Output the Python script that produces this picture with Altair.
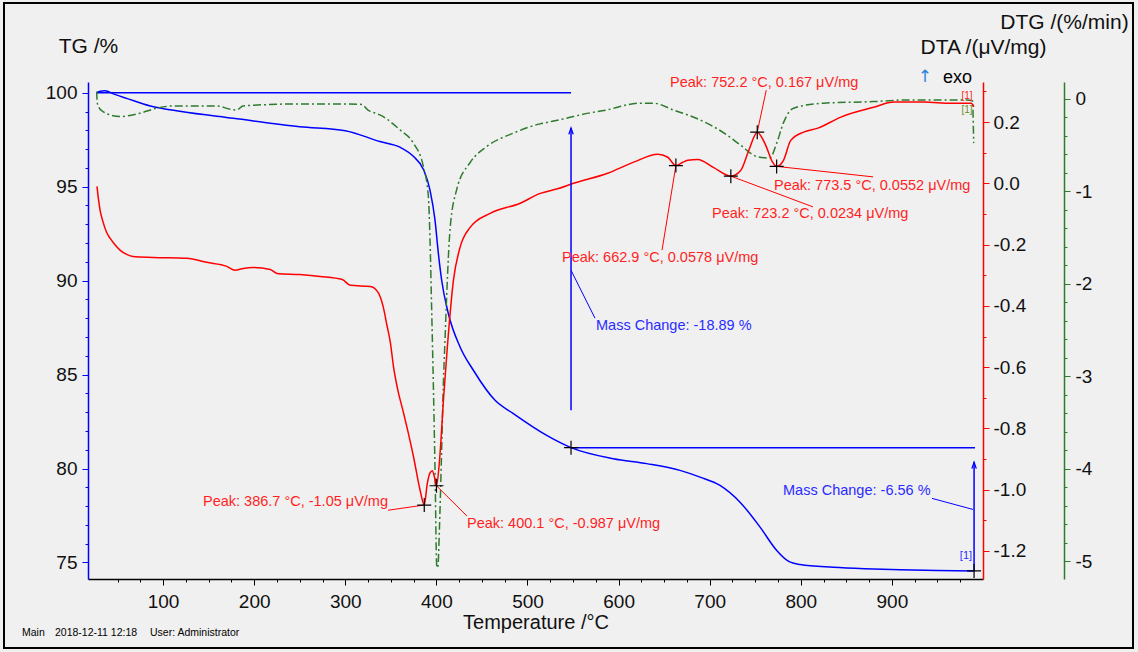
import altair as alt
import pandas as pd

FONT = "Liberation Sans"
BLUE = "#0000ff"
RED = "#ff0000"
GREEN = "#2e7b2e"
TXT_RED = "#ff1f1f"
TXT_BLUE = "#2b2bff"
ANN_SIZE = 14.5

# ---------------- axis ranges and ticks ----------------
T_DOMAIN = [17.6, 1000]
TG_DOMAIN = [74.12, 100.57]
DTA_DOMAIN = [-1.2914, 0.3306]
DTG_DOMAIN = [-5.191, 0.183]
X_MAJOR = list(range(100, 1000, 100))
X_MINOR = list(range(50, 1000, 25))
TG_MAJOR = list(range(75, 101, 5))
TG_MINOR = list(range(75, 101))
DTA_MAJOR = [round(-1.2 + 0.2 * i, 1) for i in range(8)]
DTA_MINOR = [round(-1.2 + 0.1 * i, 1) for i in range(16)]
DTG_MAJOR = [-5, -4, -3, -2, -1, 0]
DTG_MINOR = [round(-5 + 0.2 * i, 1) for i in range(26)]

# ---------------- TG curve (%) ----------------
tg_t = [27.1, 31, 36, 47, 60, 86, 120, 177, 250, 300, 338, 360, 375, 386, 393,
        398.5, 402.2, 405.8, 413.1, 426, 440.6, 464.4, 484.5, 521.1, 547.8,
        594.2, 630.9, 667.4, 689.4, 711.3, 733.3, 755.3, 773.6, 786.3, 799.2,
        835.7, 870, 909.2, 950, 990.2]
tg_v = [100.0, 100.08, 100.1, 99.91, 99.7, 99.29, 99.0, 98.64, 98.19, 97.98, 97.4,
        97.1, 96.6, 95.9, 94.82, 93.22, 91.44, 90.02, 88.25, 86.47, 85.23, 83.63,
        82.92, 81.76, 81.11, 80.52, 80.26, 79.9, 79.54, 79.1, 78.21, 76.88, 75.64,
        75.07, 74.89, 74.75, 74.67, 74.61, 74.57, 74.55]

# ---------------- DTA curve (µV/mg) ----------------
dta_t = [27.5, 29, 31, 34, 38, 42, 47, 53, 60, 67, 89, 126, 148, 170, 179, 188,
         199, 217.6, 225, 250, 272.5, 296.7, 305.5, 327.5, 336, 341.8, 345.5,
         349.5, 353, 357, 364, 368, 375, 382, 386.7, 390, 393, 395.5, 398, 400.1,
         403, 405, 407.7, 412, 418.7, 426, 437, 459, 492, 514, 533, 550.5, 588,
         616.5, 643, 654, 662.9, 670, 676, 687, 704, 723.2, 734, 743, 752.2,
         761.5, 769, 773.5, 781, 789, 803, 818.7, 844, 880, 902, 935, 965, 987, 990]
dta_v = [-0.01, -0.05, -0.09, -0.125, -0.16, -0.18, -0.2, -0.219, -0.232, -0.239,
         -0.242, -0.245, -0.258, -0.271, -0.284, -0.278, -0.275, -0.281, -0.294,
         -0.298, -0.304, -0.314, -0.333, -0.337, -0.356, -0.405, -0.46, -0.52,
         -0.6, -0.665, -0.75, -0.8, -0.894, -1.0, -1.05, -0.98, -0.945, -0.938,
         -0.96, -0.987, -0.92, -0.84, -0.709, -0.536, -0.317, -0.209, -0.144,
         -0.098, -0.065, -0.033, -0.018, 0.0, 0.033, 0.069, 0.095, 0.085, 0.0578,
         0.068, 0.075, 0.078, 0.052, 0.0234, 0.042, 0.108, 0.167, 0.124, 0.069,
         0.0552, 0.075, 0.14, 0.167, 0.18, 0.216, 0.248, 0.265, 0.265, 0.261,
         0.261, 0.25]

# ---------------- DTG curve (%/min) ----------------
dtg_t = [27.1, 27.8, 30, 34.1, 41.8, 52.7, 74.7, 93, 111.2, 158.9, 173.5, 180.8,
         187.8, 250.3, 300, 318, 325, 332, 338, 360, 374.7, 385.7, 391.2, 393,
         394.9, 396.7, 398.5, 400.4, 401.5, 403.5, 405.5, 407.6, 409.5, 411.3,
         415, 422.3, 436.9, 455.3, 484.5, 513.8, 521, 550.5, 557.7, 587, 623.5,
         638.1, 660, 689.4, 718.7, 733.3, 751.6, 765.9, 773.6, 780.8, 792,
         824.7, 879.6, 916.2, 982.1, 988.5, 989.4, 989.8]
dtg_v = [0.079, -0.046, -0.1, -0.137, -0.173, -0.191, -0.154, -0.1, -0.076,
         -0.076, -0.111, -0.119, -0.076, -0.054, -0.054, -0.06, -0.12, -0.15,
         -0.173, -0.334, -0.478, -0.73, -1.054, -1.52, -2.31, -3.1, -4.0, -5.05,
         -5.07, -4.6, -3.9, -3.1, -2.6, -2.13, -1.41, -0.98, -0.69, -0.515, -0.37,
         -0.27, -0.255, -0.191, -0.173, -0.119, -0.046, -0.046, -0.119, -0.227,
         -0.388, -0.496, -0.622, -0.64, -0.478, -0.262, -0.1, -0.046, -0.029,
         -0.011, -0.011, -0.02, -0.3, -0.478]

# ---------------- DTA peak annotations ----------------
peak_t = [386.7, 400.1, 662.9, 723.2, 752.2, 773.5]
peak_v = [-1.05, -0.987, 0.0578, 0.0234, 0.167, 0.0552]
peak_text = ["Peak: 386.7 °C, -1.05 μV/mg", "Peak: 400.1 °C, -0.987 μV/mg",
             "Peak: 662.9 °C, 0.0578 μV/mg", "Peak: 723.2 °C, 0.0234 μV/mg",
             "Peak: 752.2 °C, 0.167 μV/mg", "Peak: 773.5 °C, 0.0552 μV/mg"]
peak_label_t = [346.9, 433.6, 537.9, 702.6, 656.5, 770.6]
peak_label_v = [-1.040, -1.112, -0.244, -0.100, 0.327, -0.009]
peak_label_align = ["right", "left", "left", "left", "left", "left"]
peak_link_t = [346.9, 433.6, 647.7, 813.4, 762.1, 879.3]
peak_link_v = [-1.067, -1.086, -0.218, -0.077, 0.304, 0.021]

# ---------------- TG mass change annotations ----------------
mc_text = ["Mass Change: -18.89 %", "Mass Change: -6.56 %"]
mc_label_t = [575.2, 780.5]
mc_label_v = [87.57, 78.78]
mc_link_t1 = [547.8, 944.1]
mc_link_v1 = [90.55, 78.41]
mc_link_t2 = [574.1, 989.1]
mc_link_v2 = [88.0, 77.82]
mc_hline_t1 = [27.5, 547.8]
mc_hline_t2 = [547.8, 991.2]
mc_hline_v = [100.0, 81.11]
mc_arrow_t = [547.8, 990.2]
mc_arrow_from = [83.10, 74.52]
mc_arrow_to = [98.12, 80.33]
mc_mark_t = [547.8, 990.2]
mc_mark_v = [81.11, 74.55]

# ---------------- scales ----------------
xs = alt.Scale(domain=T_DOMAIN, nice=False, zero=False)
tgs = alt.Scale(domain=TG_DOMAIN, nice=False, zero=False)
dtas = alt.Scale(domain=DTA_DOMAIN, nice=False, zero=False)
dtgs = alt.Scale(domain=DTG_DOMAIN, nice=False, zero=False)

CROSS = "M-1,0L1,0M0,-1L0,1"
CHEVRON = "M-0.7,2L0,0L0.7,2"
FIX_MINUS = "replace(datum.label, '\u2212', '-')"


def minor_axis(values, orient, color, offset=0):
    return alt.Axis(values=values, orient=orient, offset=offset, labels=False, domain=False,
                    tickSize=3, tickColor=color, title=None, grid=False)


x_axis = alt.Axis(
    values=X_MAJOR, title="Temperature /°C", tickSize=6,
    domainColor="black", tickColor="black", labelPadding=7, labelFlush=False,
    labelOverlap=False, titleY=43, titleBaseline="middle", titleFontSize=20)
x_minor = minor_axis(X_MINOR, "bottom", "black")

tg_axis = alt.Axis(
    values=TG_MAJOR, orient="left", title="TG /%", tickSize=6,
    domainColor=BLUE, tickColor=BLUE, labelPadding=5, labelOverlap=False,
    titleAngle=0, titleX=0, titleY=-36, titleAlign="center", titleBaseline="middle")
tg_minor = minor_axis(TG_MINOR, "left", BLUE)

dta_axis = alt.Axis(
    values=DTA_MAJOR, orient="right", title="DTA /(μV/mg)", format=".1f", tickSize=6,
    labelExpr=FIX_MINUS,
    domainColor=RED, tickColor=RED, labelPadding=4, labelOverlap=False,
    titleAngle=0, titleX=0, titleY=-35, titleAlign="center", titleBaseline="middle")
dta_minor = minor_axis(DTA_MINOR, "right", RED)

dtg_axis = alt.Axis(
    values=DTG_MAJOR, orient="right", offset=81, title="DTG /(%/min)", format=".0f",
    tickSize=6, labelExpr=FIX_MINUS,
    domainColor=GREEN, tickColor=GREEN, labelPadding=5, labelOverlap=False,
    titleAngle=0, titleX=0, titleY=-60, titleAlign="center", titleBaseline="middle")
dtg_minor = minor_axis(DTG_MINOR, "right", GREEN, offset=81)

one = pd.DataFrame({"a": [0]})


def X(field, axis=None):
    return alt.X(f"{field}:Q", scale=xs, axis=axis)


# ---------------- frame and footer ----------------
frame = alt.Chart(one).mark_rect(filled=False, stroke="black", strokeWidth=2).encode(
    x=alt.value(-84), x2=alt.value(1045), y=alt.value(-79), y2=alt.value(566))


def footer(text, px):
    return alt.Chart(one).mark_text(
        text=text, align="left", baseline="middle", font=FONT, fontSize=10.5, color="black"
    ).encode(x=alt.value(px), y=alt.value(551))


footers = [footer("Main", -66), footer("2018-12-11 12:18", -33), footer("User: Administrator", 62)]

# ---------------- TG layers ----------------
tg_df = pd.DataFrame({"T": tg_t, "v": tg_v})
tg_line = alt.Chart(tg_df).mark_line(color=BLUE, strokeWidth=1.5, interpolate="monotone").encode(
    x=X("T", x_axis), y=alt.Y("v:Q", scale=tgs, axis=tg_axis))

hl_df = pd.DataFrame({"t1": mc_hline_t1, "t2": mc_hline_t2, "v": mc_hline_v})
tg_hlines = alt.Chart(hl_df).mark_rule(color=BLUE, strokeWidth=1.5).encode(
    x=X("t1", x_minor), x2="t2:Q", y=alt.Y("v:Q", scale=tgs, axis=tg_minor))

ar_df = pd.DataFrame({"t": mc_arrow_t, "v1": mc_arrow_from, "v2": mc_arrow_to})
tg_arrows = alt.Chart(ar_df).mark_rule(color=BLUE, strokeWidth=1.5).encode(
    x=X("t"), y=alt.Y("v1:Q", scale=tgs, axis=None), y2="v2:Q")
tg_heads = alt.Chart(ar_df).mark_point(shape=CHEVRON, filled=False, color=BLUE, size=40,
                                        strokeWidth=1.3, opacity=1).encode(
    x=X("t"), y=alt.Y("v2:Q", scale=tgs, axis=None))

ln_df = pd.DataFrame({"t1": mc_link_t1, "v1": mc_link_v1, "t2": mc_link_t2, "v2": mc_link_v2})
tg_links = alt.Chart(ln_df).mark_rule(color=BLUE, strokeWidth=1).encode(
    x=X("t1"), x2="t2:Q", y=alt.Y("v1:Q", scale=tgs, axis=None), y2="v2:Q")

mc_df = pd.DataFrame({"t": mc_label_t, "v": mc_label_v, "txt": mc_text})
tg_labels = alt.Chart(mc_df).mark_text(align="left", baseline="middle", font=FONT,
                                       fontSize=ANN_SIZE, color=TXT_BLUE).encode(
    x=X("t"), y=alt.Y("v:Q", scale=tgs, axis=None), text="txt:N")

mk_df = pd.DataFrame({"t": mc_mark_t, "v": mc_mark_v})
tg_marks = alt.Chart(mk_df).mark_point(shape=CROSS, filled=False, color="black", size=196,
                                        strokeWidth=1.2, opacity=1).encode(
    x=X("t"), y=alt.Y("v:Q", scale=tgs, axis=None))

tag_df = pd.DataFrame({"t": [988.0], "v": [75.37], "txt": ["[1]"]})
tg_tag = alt.Chart(tag_df).mark_text(align="right", baseline="middle", font=FONT,
                                     fontSize=11, color=TXT_BLUE).encode(
    x=X("t"), y=alt.Y("v:Q", scale=tgs, axis=None), text="txt:N")

# ---------------- DTA layers ----------------
dta_df = pd.DataFrame({"T": dta_t, "v": dta_v})
dta_line = alt.Chart(dta_df).mark_line(color=RED, strokeWidth=1.5, interpolate="monotone").encode(
    x=X("T"), y=alt.Y("v:Q", scale=dtas, axis=dta_axis))

pl_df = pd.DataFrame({"t1": peak_t, "v1": peak_v, "t2": peak_link_t, "v2": peak_link_v})
dta_links = alt.Chart(pl_df).mark_rule(color=RED, strokeWidth=1).encode(
    x=X("t1"), x2="t2:Q", y=alt.Y("v1:Q", scale=dtas, axis=dta_minor), y2="v2:Q")

pk_df = pd.DataFrame({"t": peak_t, "v": peak_v})
dta_marks = alt.Chart(pk_df).mark_point(shape=CROSS, filled=False, color="black", size=196,
                                         strokeWidth=1.2, opacity=1).encode(
    x=X("t"), y=alt.Y("v:Q", scale=dtas, axis=None))

lab_df = pd.DataFrame({"t": peak_label_t, "v": peak_label_v, "txt": peak_text,
                       "al": peak_label_align})
dta_labels = []
for al in ["left", "right"]:
    dta_labels.append(
        alt.Chart(lab_df[lab_df["al"] == al]).mark_text(
            align=al, baseline="middle", font=FONT, fontSize=ANN_SIZE, color=TXT_RED).encode(
            x=X("t"), y=alt.Y("v:Q", scale=dtas, axis=None), text="txt:N"))

rtag_df = pd.DataFrame({"t": [988.5], "v": [0.286], "txt": ["[1]"]})
dta_tag = alt.Chart(rtag_df).mark_text(align="right", baseline="middle", font=FONT,
                                       fontSize=10, color=TXT_RED).encode(
    x=X("t"), y=alt.Y("v:Q", scale=dtas, axis=None), text="txt:N")

exo_df = pd.DataFrame({"t": [988.0], "v": [0.345], "txt": ["exo"]})
dta_exo = alt.Chart(exo_df).mark_text(align="right", baseline="middle", font=FONT,
                                      fontSize=18, color="black").encode(
    x=X("t"), y=alt.Y("v:Q", scale=dtas, axis=None), text="txt:N")
arr_df = pd.DataFrame({"t": [944.1], "v": [0.348], "txt": ["↑"]})
dta_arr = alt.Chart(arr_df).mark_text(align="right", baseline="middle", font="DejaVu Sans",
                                      fontSize=17, color="#2b86d9").encode(
    x=X("t"), y=alt.Y("v:Q", scale=dtas, axis=None), text="txt:N")

# ---------------- DTG layers ----------------
dtg_df = pd.DataFrame({"T": dtg_t, "v": dtg_v})
dtg_line = alt.Chart(dtg_df).mark_line(color=GREEN, strokeWidth=1.5, strokeDash=[8, 3, 2, 3],
                                       interpolate="monotone").encode(
    x=X("T"), y=alt.Y("v:Q", scale=dtgs, axis=dtg_axis))

gtag_df = pd.DataFrame({"t": [988.5], "v": [-0.119], "txt": ["[1]"]})
dtg_tag = alt.Chart(gtag_df).mark_text(align="right", baseline="middle", font=FONT,
                                       fontSize=10, color="#6b8e23").encode(
    x=X("t"), y=alt.Y("v:Q", scale=dtgs, axis=dtg_minor), text="txt:N")

chart = alt.layer(
    tg_line, tg_hlines, dtg_line, dtg_tag, dta_line, dta_links,
    frame, *footers, tg_arrows, tg_heads, tg_links, tg_labels, tg_marks, tg_tag,
    dta_marks, *dta_labels, dta_tag, dta_exo, dta_arr,
).resolve_scale(x="independent", y="independent").properties(
    width=895, height=497,
    autosize=alt.AutoSizeParams(type="none"),
    padding={"left": 88, "top": 82, "right": 155, "bottom": 73},
    background="#f0f0f0",
).configure_view(stroke=None).configure_axis(
    labelFont=FONT, titleFont=FONT, labelFontSize=19, titleFontSize=21,
    titleFontWeight="normal", labelColor="#111111", titleColor="#111111",
    grid=False, tickWidth=1, domainWidth=1.5,
)

chart.save("out.html", embed_options={"renderer": "svg", "actions": False})
